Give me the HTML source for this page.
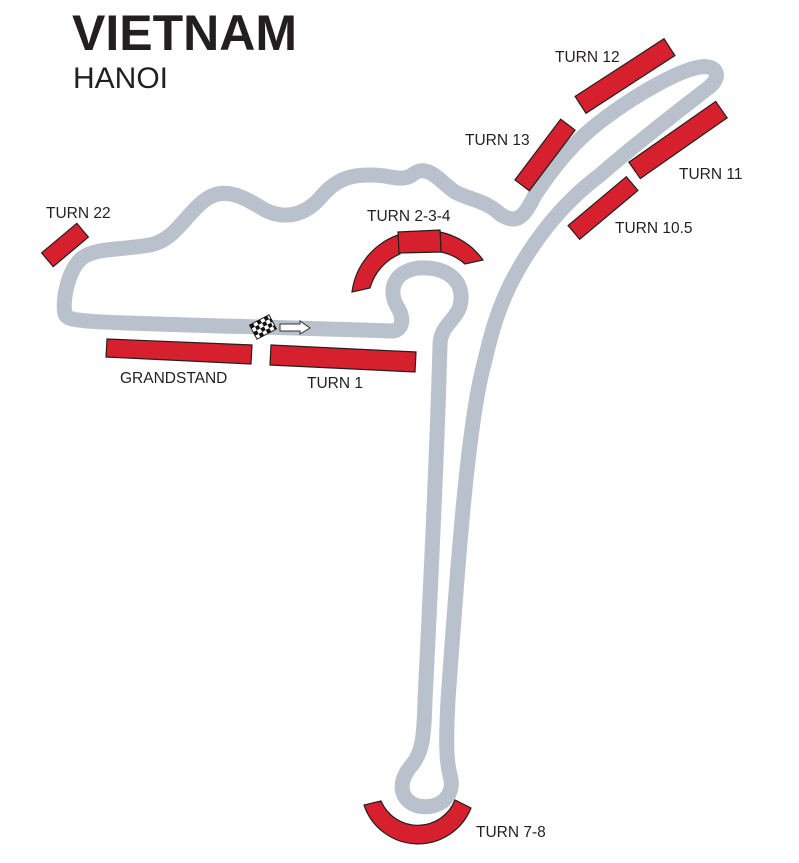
<!DOCTYPE html>
<html><head><style>
html,body{margin:0;padding:0;background:#fff;}
svg{display:block;}
text{font-family:"Liberation Sans",Arial,sans-serif;fill:#231f20;}
</style></head><body>
<svg width="799" height="863" viewBox="0 0 799 863" xmlns="http://www.w3.org/2000/svg">
<text x="72" y="50" font-size="50" font-weight="bold">VIETNAM</text>
<text x="73" y="88" font-size="30">HANOI</text>

<path fill="none" stroke="#b9c1cc" stroke-width="15" stroke-linejoin="round" stroke-linecap="round"
d="M260,327 L393,331 C403,330 404,318 398,308 C388,292 392,272 418,268 C448,266 466,282 460,306 C456,320 440,326 440,345
C438,420 432,560 425,700 C424,740 422,752 412,765 C398,780 398,800 418,806 C440,810 456,796 450,775 C446,760 446,740 448,700
C458,560 468,420 485,360 C492,330 498,310 510,285 C530,245 560,205 600,175 C640,140 680,110 708,88 C722,78 718,64 700,67
C680,70 640,92 605,118 C575,140 555,165 535,195 C525,215 518,226 500,214 C485,200 470,200 455,192 C440,182 428,162 412,175 C405,180 395,178 385,176
C350,172 335,180 320,198 C305,215 285,220 265,210 C245,198 225,185 205,200 C185,215 175,240 150,245 C120,250 95,248 82,258
C68,270 62,300 65,314 C68,322 80,322 260,327 Z"/>

<g fill="#d7202e" stroke="#231f20" stroke-width="1.2">
<polygon points="107,339 252,345 251,364 106,357"/>
<polygon points="271,345 416,352 415,372 270,365"/>
<rect x="-23" y="-9" width="46" height="18" transform="translate(65,245) rotate(-40)"/>
<rect x="-38" y="-9" width="76" height="18" transform="translate(545,155) rotate(-53)"/>
<rect x="-53" y="-10" width="106" height="20" transform="translate(625,76) rotate(-33)"/>
<rect x="-53" y="-10" width="106" height="20" transform="translate(678,140) rotate(-35)"/>
<rect x="-38" y="-9" width="76" height="18" transform="translate(603,208) rotate(-40)"/>
<path d="M352,292 A70,70 0 0 1 398,235 L400,254 A52,52 0 0 0 370,288 Z"/>
<path d="M440,232 A70,70 0 0 1 483,260 L465,264 A52,52 0 0 0 441,252 Z"/>
<polygon points="398,232 440,230 441,252 399,253"/>
<path d="M364,805 A57,57 0 0 0 471,808 L455,800 A40,40 0 0 1 381,801 Z"/>
</g>

<g transform="translate(263,327) rotate(-28)">
<rect x="-11" y="-8" width="22" height="16" fill="#fff" stroke="#222" stroke-width="1"/>
<g fill="#111">
<rect x="-11" y="-8" width="4" height="4"/><rect x="-3" y="-8" width="4" height="4"/><rect x="5" y="-8" width="4" height="4"/>
<rect x="-7" y="-4" width="4" height="4"/><rect x="1" y="-4" width="4" height="4"/><rect x="9" y="-4" width="2" height="4"/>
<rect x="-11" y="0" width="4" height="4"/><rect x="-3" y="0" width="4" height="4"/><rect x="5" y="0" width="4" height="4"/>
<rect x="-7" y="4" width="4" height="4"/><rect x="1" y="4" width="4" height="4"/><rect x="9" y="4" width="2" height="4"/>
</g></g>
<path d="M280,324 L300,324 L300,321 L310,328 L300,334 L300,331 L280,331 Z" fill="#fff" stroke="#333" stroke-width="1"/>

<g font-size="15.5">
<text x="46" y="218">TURN 22</text>
<text x="367" y="221">TURN 2-3-4</text>
<text x="120" y="383">GRANDSTAND</text>
<text x="307" y="388">TURN 1</text>
<text x="555" y="62">TURN 12</text>
<text x="465" y="145">TURN 13</text>
<text x="679" y="179">TURN 11</text>
<text x="615" y="233">TURN 10.5</text>
<text x="476" y="837">TURN 7-8</text>
</g>
</svg>
</body></html>
